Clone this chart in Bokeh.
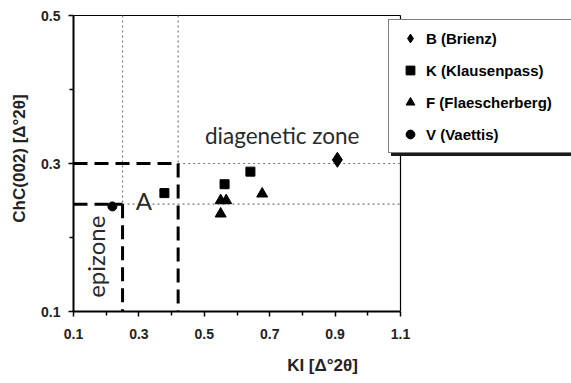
from math import pi
from bokeh.plotting import figure
from bokeh.models import Range1d, FixedTicker, Legend, LegendItem, Label
from bokeh.embed import file_html
from bokeh.resources import INLINE

# ---- data ----
b_ki = [0.907]
b_chc = [0.305]
k_ki = [0.378, 0.562, 0.641]
k_chc = [0.260, 0.272, 0.289]
f_ki = [0.550, 0.567, 0.550, 0.677]
f_chc = [0.250, 0.250, 0.232, 0.259]
v_ki = [0.219]
v_chc = [0.242]

series_labels = ["B (Brienz)", "K (Klausenpass)", "F (Flaescherberg)", "V (Vaettis)"]

# zone boundaries
KI_EPI = 0.25
KI_DIA = 0.42
CHC_EPI = 0.245
CHC_DIA = 0.30

X_MIN, X_MAX = 0.1, 1.1
Y_MIN, Y_MAX = 0.1, 0.5
x_major = [0.1, 0.3, 0.5, 0.7, 0.9, 1.1]
x_minor = [0.2, 0.4, 0.6, 0.8, 1.0]
y_major = [0.1, 0.3, 0.5]
y_minor = [0.2, 0.4]

# layout: the axes box is 327 x 296 px; the drawing frame extends to the
# right edge of the page so that the legend (which overlaps it) is not clipped
W, H = 571, 383
LEFT, BOTTOM, TOP = 73, 72, 5
BOX_W, BOX_H = 327, 296
frame_w = W - LEFT
frame_h = H - BOTTOM - TOP
x_end = X_MIN + (X_MAX - X_MIN) * frame_w / BOX_W
y_end = Y_MIN + (Y_MAX - Y_MIN) * frame_h / BOX_H

FONT = "Liberation Sans"
LIGHT = "Lato"

p = figure(width=W, height=H, output_backend="svg", toolbar_location=None,
           x_range=Range1d(X_MIN, x_end), y_range=Range1d(Y_MIN, y_end),
           min_border_left=LEFT, min_border_right=0, min_border_top=TOP,
           min_border_bottom=BOTTOM)
p.background_fill_color = "white"
p.border_fill_color = "white"
p.outline_line_color = None
p.grid.visible = False

p.xaxis.ticker = FixedTicker(ticks=x_major, minor_ticks=x_minor)
p.yaxis.ticker = FixedTicker(ticks=y_major, minor_ticks=y_minor)
p.xaxis.bounds = (X_MIN, X_MAX)
p.yaxis.bounds = (Y_MIN, Y_MAX)
for ax in (p.xaxis[0], p.yaxis[0]):
    ax.axis_line_width = 2
    ax.axis_line_color = "black"
    ax.major_tick_in = 0
    ax.minor_tick_in = 0
    ax.major_tick_out = 5
    ax.minor_tick_out = 4
    ax.major_tick_line_width = 1.5
    ax.minor_tick_line_width = 1.5
    ax.major_label_text_font = FONT
    ax.major_label_text_font_style = "bold"
    ax.major_label_text_font_size = "14px"
    ax.major_label_text_color = "#222222"
    ax.axis_label_text_font = FONT
    ax.axis_label_text_font_style = "bold"
    ax.axis_label_text_font_size = "17px"
    ax.axis_label_text_color = "#222222"
p.xaxis.major_label_standoff = 12
p.yaxis.major_label_standoff = 8
p.xaxis.axis_label = "KI [Δ°2θ]"
p.yaxis.axis_label = "ChC(002) [Δ°2θ]"
p.xaxis.axis_label_standoff = 14
p.yaxis.axis_label_standoff = 9

# top and right border of the axes box
p.multi_line([[X_MIN, X_MAX], [X_MAX, X_MAX]], [[Y_MAX, Y_MAX], [Y_MAX, Y_MIN]],
             line_color="black", line_width=1.2)

# zone boundary lines
dash_xs = [[X_MIN, KI_DIA], [KI_DIA, KI_DIA], [X_MIN, KI_EPI], [KI_EPI, KI_EPI]]
dash_ys = [[CHC_DIA, CHC_DIA], [CHC_DIA, Y_MIN], [CHC_EPI, CHC_EPI], [CHC_EPI, Y_MIN]]
dot_xs = [[KI_EPI, KI_EPI], [KI_EPI, X_MAX], [KI_DIA, KI_DIA], [KI_DIA, X_MAX]]
dot_ys = [[Y_MAX, CHC_EPI], [CHC_EPI, CHC_EPI], [Y_MAX, CHC_DIA], [CHC_DIA, CHC_DIA]]
p.multi_line(dot_xs, dot_ys, line_color="#777777", line_width=1.2, line_dash="2 3")
p.multi_line(dash_xs, dash_ys, line_color="black", line_width=3, line_dash="14 7")

# data points
rb = p.scatter(b_ki, b_chc, marker="diamond", size=15, fill_color="black", line_color="black")
rk = p.scatter(k_ki, k_chc, marker="square", size=9, fill_color="black", line_color="black")
rf = p.scatter(f_ki, f_chc, marker="triangle", size=11, fill_color="black", line_color="black")
rv = p.scatter(v_ki, v_chc, marker="circle", size=9, fill_color="black", line_color="black")
renderers = [rb, rk, rf, rv]

# annotations
p.add_layout(Label(x=0.502, y=0.338, text="diagenetic zone", text_font=LIGHT,
                   text_font_size="22.5px", text_color="#2a2a2a",
                   text_baseline="alphabetic", text_align="left"))
p.add_layout(Label(x=0.29, y=0.25, text="A", text_font=LIGHT,
                   text_font_size="24px", text_color="#2a2a2a",
                   text_baseline="alphabetic", text_align="left"))
p.add_layout(Label(x=0.168, y=0.174, text="epizone", text_font=LIGHT,
                   text_font_size="24px", text_color="#2a2a2a", angle=pi / 2,
                   text_baseline="alphabetic", text_align="center"))

# legend with shadow
def make_legend(loc, shadow):
    labels = [" " for _ in series_labels] if shadow else series_labels
    items = [LegendItem(label=l, renderers=[r]) for l, r in zip(labels, renderers)]
    leg = Legend(items=items, location=loc, orientation="vertical",
                 padding=7, spacing=10, margin=0,
                 glyph_width=28, glyph_height=22, label_height=22, label_width=175,
                 label_standoff=2,
                 label_text_font=FONT, label_text_font_style="bold",
                 label_text_font_size="15px", label_text_color="black",
                 border_line_color="black", border_line_width=1,
                 background_fill_color="white", background_fill_alpha=1)
    if shadow:
        leg.background_fill_color = "#1a1a1a"
        leg.border_line_color = "#1a1a1a"
        leg.label_text_alpha = 0
    return leg

# legend box: left edge at 388 px, bottom edge at 153 px (page coords)
p.add_layout(make_legend((388 - LEFT + 3, H - BOTTOM - 153 - 3), True))
p.add_layout(make_legend((388 - LEFT, H - BOTTOM - 153), False))

open("out.html", "w").write(file_html(p, INLINE))
